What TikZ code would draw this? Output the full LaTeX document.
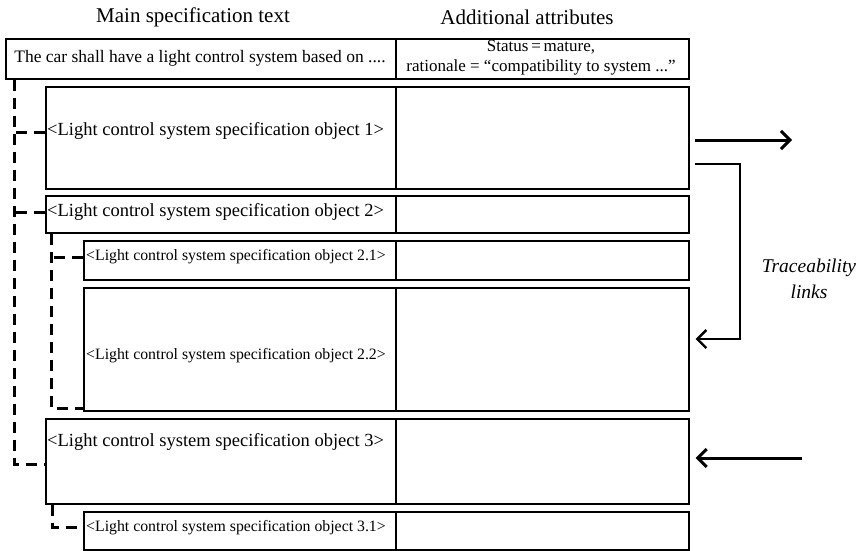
\documentclass[tikz,border=0pt]{standalone}
\usepackage{fontspec}
\setmainfont{Liberation Serif}
\usetikzlibrary{arrows.meta}
\begin{document}
\begin{tikzpicture}[x=1pt,y=-1pt,
  cell/.style={draw, line width=1.6pt, inner sep=0pt, anchor=north west},
  conn/.style={line width=3pt, dash pattern=on 11pt off 7pt},
  link/.style={line width=3pt, -{Straight Barb[length=9pt,width=18pt]}},
  bracket/.style={line width=2.4pt, -{Straight Barb[length=9pt,width=18pt]}},
  head/.style={font=\fontsize{21}{24}\selectfont, inner sep=0pt},
  maintext/.style={font=\fontsize{18.5}{20}\selectfont, inner sep=0pt, anchor=west},
  subtext/.style={font=\fontsize{15.8}{18}\selectfont, inner sep=0pt, anchor=west}]
\useasboundingbox[fill=white] (0,0) rectangle (861,550);

% headers
\node[head] (h1) at (193,17) {Main specification text};
\node[head] (h2) at (527,17) {Additional attributes};

% cells
\node[cell, minimum width=390pt, minimum height=40pt] (r0l) at (5,38) {};
\node[cell, minimum width=293pt, minimum height=40pt] (r0r) at (395,38) {};
\node[cell, minimum width=350pt, minimum height=102pt] (r1l) at (45,86) {};
\node[cell, minimum width=293pt, minimum height=102pt] (r1r) at (395,86) {};
\node[cell, minimum width=350pt, minimum height=37pt] (r2l) at (45,195) {};
\node[cell, minimum width=293pt, minimum height=37pt] (r2r) at (395,195) {};
\node[cell, minimum width=312pt, minimum height=39pt] (r21l) at (83,240) {};
\node[cell, minimum width=293pt, minimum height=39pt] (r21r) at (395,240) {};
\node[cell, minimum width=312pt, minimum height=123pt] (r22l) at (83,287) {};
\node[cell, minimum width=293pt, minimum height=123pt] (r22r) at (395,287) {};
\node[cell, minimum width=350pt, minimum height=85pt] (r3l) at (45,418) {};
\node[cell, minimum width=293pt, minimum height=85pt] (r3r) at (395,418) {};
\node[cell, minimum width=312pt, minimum height=38pt] (r31l) at (83,511) {};
\node[cell, minimum width=293pt, minimum height=38pt] (r31r) at (395,511) {};

% texts
\node[font=\fontsize{17.5}{20}\selectfont, inner sep=0pt] (t0) at (200,58) {The car shall have a light control system based on ....};
\node[font=\fontsize{17}{20}\selectfont, inner sep=0pt, align=center] (a0) at (541,58) {Status\,=\,mature,\\rationale = “compatibility to system ...”};
\node[maintext] (t1) at (47,131) {<Light control system specification object 1>};
\node[maintext] (t2) at (47,212) {<Light control system specification object 2>};
\node[subtext] (t21) at (86,257) {<Light control system specification object 2.1>};
\node[subtext] (t22) at (86,356) {<Light control system specification object 2.2>};
\node[maintext] (t3) at (47,442) {<Light control system specification object 3>};
\node[subtext] (t31) at (86,528) {<Light control system specification object 3.1>};
\node[font=\itshape\fontsize{19.5}{26}\selectfont, inner sep=0pt, align=center] (tl) at (809,279) {Traceability\\links};

% dashed hierarchy connectors
\coordinate (s0) at ([xshift=9pt]r0l.south west);
\coordinate (j1) at (45,132);
\coordinate (j2) at (45,212);
\coordinate (j3) at (45,464);
\draw[conn] (s0) |- (j3);
\draw[conn] (j1) -- (j1 -| s0);
\draw[conn] (j2) -- (j2 -| s0);
\coordinate (s2) at ([xshift=6pt]r2l.south west);
\coordinate (j21) at (83,257);
\coordinate (j22) at (83,408);
\draw[conn] (s2) |- (j22);
\draw[conn] (j21) -- (j21 -| s2);
\coordinate (s3) at ([xshift=7pt]r3l.south west);
\coordinate (j31) at (83,527);
\draw[conn] (s3) |- (j31);

% traceability links
\coordinate (out1) at (792,140);
\draw[link] ([xshift=5pt]r1r.east |- out1) -- (out1);
\coordinate (b1) at (740,164);
\coordinate (b2) at (740,339);
\draw[bracket] ([xshift=5pt]r1r.east |- b1) -| (b2) -- ([xshift=6pt]r22r.east |- b2);
\coordinate (in3) at (802,458);
\draw[link] (in3) -- ([xshift=6pt]r3r.east |- in3);
\end{tikzpicture}
\end{document}
